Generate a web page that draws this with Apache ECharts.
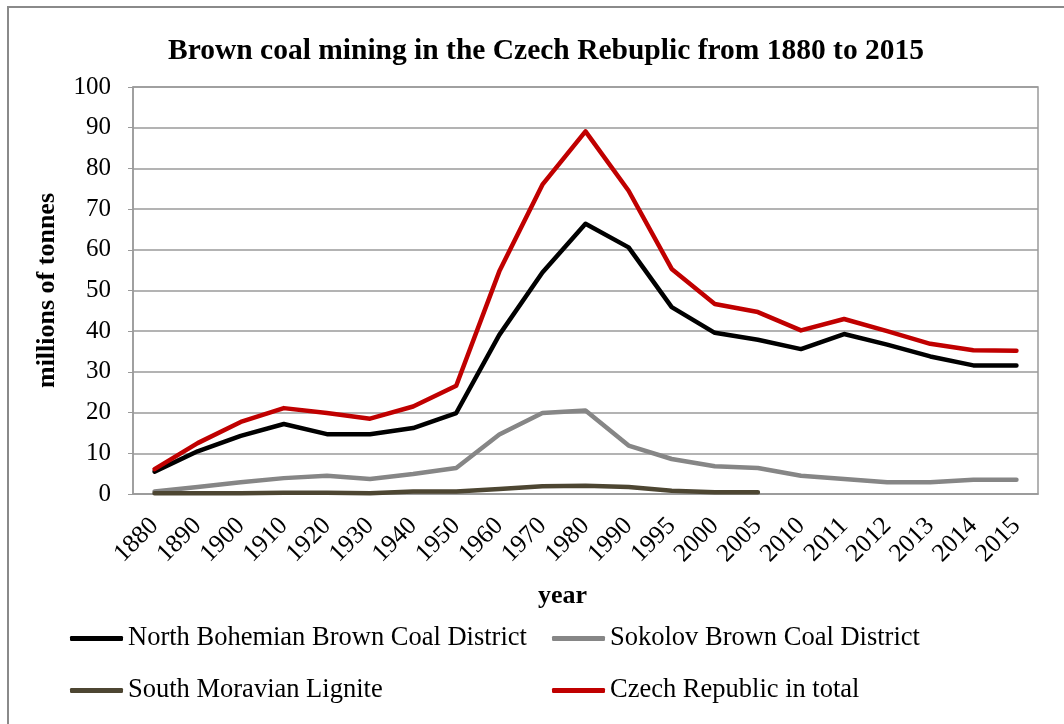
<!DOCTYPE html>
<html>
<head>
<meta charset="utf-8">
<script src="https://cdn.jsdelivr.net/npm/echarts@6/dist/echarts.min.js"></script>
<style>html,body{margin:0;padding:0;background:#fff}#c{width:1064px;height:724px}</style>
</head>
<body>
<div id="c"></div>
<script>
const years = ['1880','1890','1900','1910','1920','1930','1940','1950','1960','1970','1980','1990','1995','2000','2005','2010','2011','2012','2013','2014','2015'];
const northBohemian = [5.5,10.5,14.3,17.2,14.7,14.7,16.2,19.9,39.1,54.4,66.4,60.6,45.9,39.6,37.9,35.6,39.3,36.7,33.8,31.6,31.6];
const sokolov = [0.6,1.7,2.9,3.9,4.5,3.7,4.9,6.4,14.6,19.9,20.5,11.9,8.6,6.8,6.4,4.5,3.7,2.9,2.9,3.5,3.5];
const southMoravian = [0.2,0.2,0.2,0.3,0.3,0.2,0.6,0.6,1.2,1.9,2.0,1.7,0.8,0.4,0.4,null,null,null,null,null,null];
const czechTotal = [6.1,12.5,17.7,21.1,19.9,18.5,21.5,26.6,54.7,76.0,89.1,74.5,55.3,46.7,44.7,40.2,43.0,40.0,36.9,35.3,35.2];
const seriesNames = ['North Bohemian Brown Coal District','Sokolov Brown Coal District','South Moravian Lignite','Czech Republic in total'];
const seriesColors = ['#000000','#868686','#4d4632','#c00000'];
const seriesData = [northBohemian, sokolov, southMoravian, czechTotal];

const FONT = '"Liberation Serif", "Times New Roman", serif';
const chart = echarts.init(document.getElementById('c'));
const legendPos = [[70,625],[552,625],[70,677],[552,677]];
chart.setOption({
  animation: false,
  backgroundColor: '#fff',
  title: {
    text: 'Brown coal mining in the Czech Rebuplic from 1880 to 2015',
    left: 541, textAlign: 'center', top: 31,
    textStyle: {fontFamily: FONT, fontWeight: 'bold', fontSize: 29.5, color: '#000'}
  },
  graphic: [
    {type: 'rect', shape: {x: 8, y: 7, width: 1100, height: 800}, style: {fill: 'none', stroke: '#8a8a8a', lineWidth: 2}, silent: true},
    {type: 'text', left: 538, top: 583, style: {text: 'year', font: 'bold 26px ' + FONT, fill: '#000'}}
  ],
  legend: seriesNames.map((n, i) => ({
    data: [n], left: legendPos[i][0], top: legendPos[i][1], padding: 0,
    icon: 'roundRect', itemWidth: 53, itemHeight: 5,
    textStyle: {fontFamily: FONT, fontSize: 26.5, color: '#000'}
  })),
  grid: {left: 133, right: 26, top: 87, bottom: 230, show: true, borderColor: '#9a9a9a', borderWidth: 1.5, containLabel: false},
  xAxis: {
    type: 'category', data: years, boundaryGap: true,
    axisLine: {lineStyle: {color: '#9a9a9a', width: 1.5}},
    axisTick: {show: false},
    axisLabel: {interval: 0, hideOverlap: false, rotate: 45, fontFamily: FONT, fontSize: 25.5, color: '#000', margin: 28}
  },
  yAxis: {
    type: 'value', min: 0, max: 100, interval: 10,
    name: 'millions of tonnes', nameLocation: 'middle', nameGap: 73,
    nameTextStyle: {fontFamily: FONT, fontWeight: 'bold', fontSize: 26, color: '#000'},
    axisLine: {show: true, lineStyle: {color: '#9a9a9a', width: 1.5}},
    axisTick: {show: true, length: 5, lineStyle: {color: '#9a9a9a'}},
    axisLabel: {fontFamily: FONT, fontSize: 25, color: '#000', margin: 22},
    splitLine: {lineStyle: {color: '#9a9a9a', width: 1.5}}
  },
  series: seriesNames.map((n, i) => ({
    name: n, type: 'line', data: seriesData[i], symbol: 'none',
    lineStyle: {color: seriesColors[i], width: 4.5, cap: 'round', join: 'round'},
    itemStyle: {color: seriesColors[i]},
    connectNulls: false
  }))
});
</script>
</body>
</html>
